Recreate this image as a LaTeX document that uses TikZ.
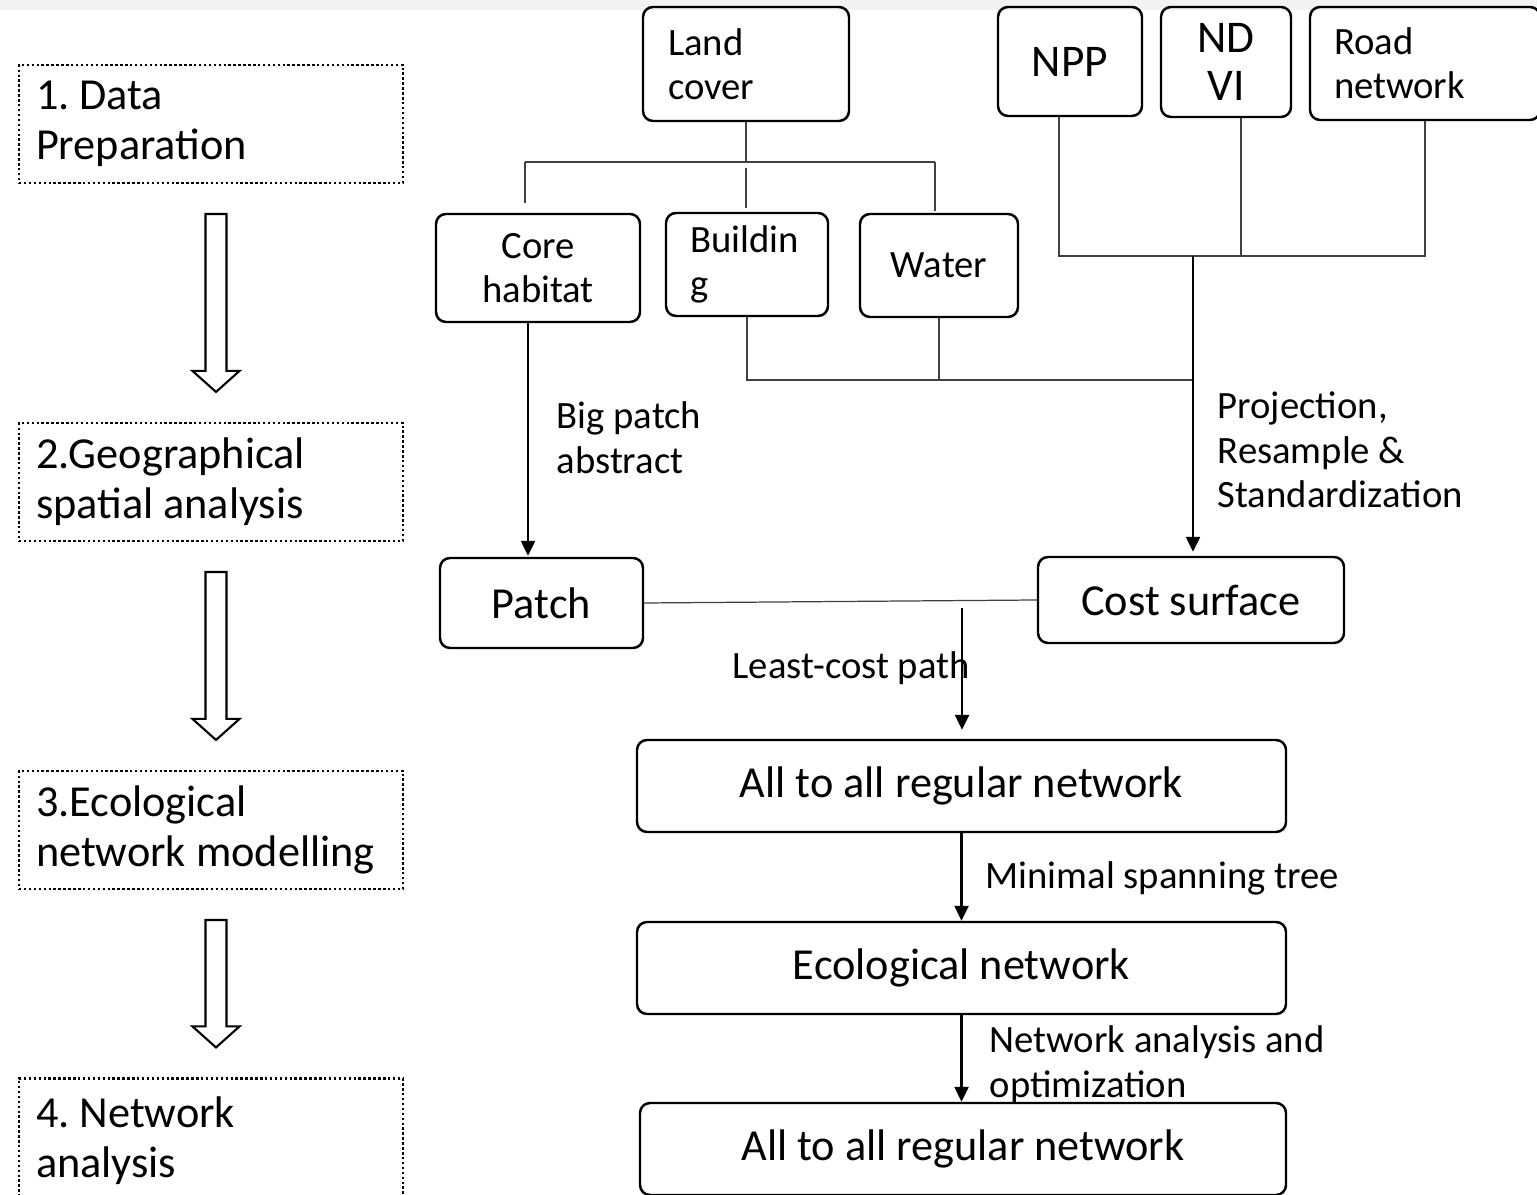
\documentclass[tikz,border=0pt]{standalone}
\usepackage{fontspec}
\setmainfont{Carlito}
\usepackage{tikz}
\usetikzlibrary{calc}
\usetikzlibrary{arrows.meta}
\frenchspacing
\tikzset{
	stage/.style={draw, line width=0.6pt, dash pattern=on 0.7pt off 0.7pt, minimum width=3.84cm, minimum height=1.18cm, inner xsep=1.7mm, text width=3.5cm, align=flush left, font=\fontsize{12.6}{14.2}\selectfont},
	box/.style={draw, line width=0.7pt, rounded corners=1mm, inner sep=0pt, align=center, font=\fontsize{11}{12.6}\selectfont},
	bigtext/.style={font=\fontsize{12.6}{15}\selectfont},
	link/.style={line width=0.35pt, black!75},
	flow/.style={line width=0.7pt, -{Triangle[length=1.5mm,width=1.4mm]}},
	hollow/.style={line width=0.6pt, fill=white},
	lbl/.style={inner sep=0pt, anchor=west, align=left, font=\fontsize{11}{12.7}\selectfont}
}

\begin{document}
\begin{tikzpicture}[x=0.1mm, y=-0.1mm]
	\useasboundingbox (0,0) rectangle (1537,1195);
	\fill[black!5] (0,0) rectangle (1537,10);

	% stages on the left
	\node[stage] (s1) at (211,124) {1. Data\\Preparation};
	\node[stage] (s2) at (211,482) {2.Geographical\\spatial analysis};
	\node[stage] (s3) at (211,830) {3.Ecological\\network modelling};
	\node[stage, minimum height=1.25cm] (s4) at (211,1141) {4. Network\\analysis};

	\foreach \a/\b in {s1/s2, s2/s3, s3/s4}
	\draw[hollow] let \p1=($(\a.south)+(5,30)$), \p2=($(\b.north)+(5,-30)$) in
		(\x1-1.05mm,\y1) -- (\x1+1.05mm,\y1) -- (\x1+1.05mm,\y2+2.1mm) -- (\x1+2.35mm,\y2+2.1mm)
		-- (\x1,\y2) -- (\x1-2.35mm,\y2+2.1mm) -- (\x1-1.05mm,\y2+2.1mm) -- cycle;

	% input data
	\node[box, minimum width=2.06cm, minimum height=1.14cm, text width=1.56cm, align=flush left] (land) at (746,64) {Land\\cover};
	\node[box, minimum width=1.44cm, minimum height=1.09cm, font=\fontsize{12.9}{13.7}\selectfont] (npp) at (1070,61.5) {NPP};
	\node[box, minimum width=1.30cm, minimum height=1.10cm, font=\fontsize{12.9}{13.7}\selectfont] (ndvi) at (1226,62) {ND\\VI};
	\node[box, minimum width=2.30cm, minimum height=1.13cm, text width=1.82cm, align=flush left] (road) at (1425,63.5) {Road\\network};

	\node[box, minimum width=2.04cm, minimum height=1.08cm] (core) at (538,268) {Core\\habitat};
	\node[box, minimum width=1.62cm, minimum height=1.03cm, text width=1.14cm, align=flush left] (bldg) at (747,264.5) {Buildin\\g};
	\node[box, minimum width=1.58cm, minimum height=1.03cm] (water) at (939,265.5) {Water};

	\node[box, bigtext, minimum width=2.03cm, minimum height=0.90cm] (patch) at (541.5,603) {Patch};
	\node[box, bigtext, minimum width=3.06cm, minimum height=0.86cm] (cost) at (1191,600) {Cost surface};
	\node[box, bigtext, minimum width=6.49cm, minimum height=0.92cm] (net1) at (961.5,786) {All to all regular network};
	\node[box, bigtext, minimum width=6.49cm, minimum height=0.92cm] (eco) at (961.5,968) {Ecological network};
	\node[box, bigtext, minimum width=6.46cm, minimum height=0.92cm] (net2) at (963,1149) {All to all regular network};

	% land cover split
	\coordinate (lcL) at (525,162);
	\coordinate (lcR) at (935,162);
	\draw[link] (land.south) -- (land.south |- lcL);
	\draw[link] (lcL) -- (lcR);
	\draw[link] (lcL) -- ($(lcL |- core.north)+(0,-10)$);
	\draw[link] ($(land.south |- lcL)+(0,6)$) -- ($(land.south |- bldg.north)+(0,-4)$);
	\draw[link] (lcR) -- ($(lcR |- water.north)+(0,-2)$);

	% building and water
	\coordinate (bw) at (1193,380);
	\draw[link] (bldg.south) -- (bldg.south |- bw) -- (bw);
	\draw[link] (water.south) -- (water.south |- bw);

	% npp, ndvi, road
	\coordinate (nL) at (1059,256);
	\coordinate (nM) at (1241,256);
	\coordinate (nR) at (1425,256);
	\coordinate (nJ) at (1193,256);
	\draw[link] (nL |- npp.south) -- (nL) -- (nR) -- (road.south);
	\draw[link] (nM |- ndvi.south) -- (nM);
	\draw[flow] (nJ) -- ($(nJ |- cost.north)+(0,-4)$);

	\draw[flow] ($(core.south)+(-10,0)$) -- ($(patch.north)+(-13.5,-1)$);
	\draw[link] (patch.east) -- (cost.west);
	\coordinate (lp) at (962,608);
	\draw[flow] (lp) -- ($(lp |- net1.north)+(0,-9)$);
	\draw[flow] (net1.south) -- (eco.north);
	\draw[flow] (eco.south) -- (eco.south |- net2.north);

	% labels
	\node[lbl] (bpa) at (556,438) {Big patch\\abstract};
	\node[lbl] (prs) at (1217,450) {Projection,\\Resample \&\\Standardization};
	\node[lbl] (lcpl) at (732,668) {Least-cost path};
	\node[lbl] (mst) at (985,878) {Minimal spanning tree};
	\node[lbl] (nao) at (989,1065) {Network analysis and\\optimization};
\end{tikzpicture}
\end{document}
